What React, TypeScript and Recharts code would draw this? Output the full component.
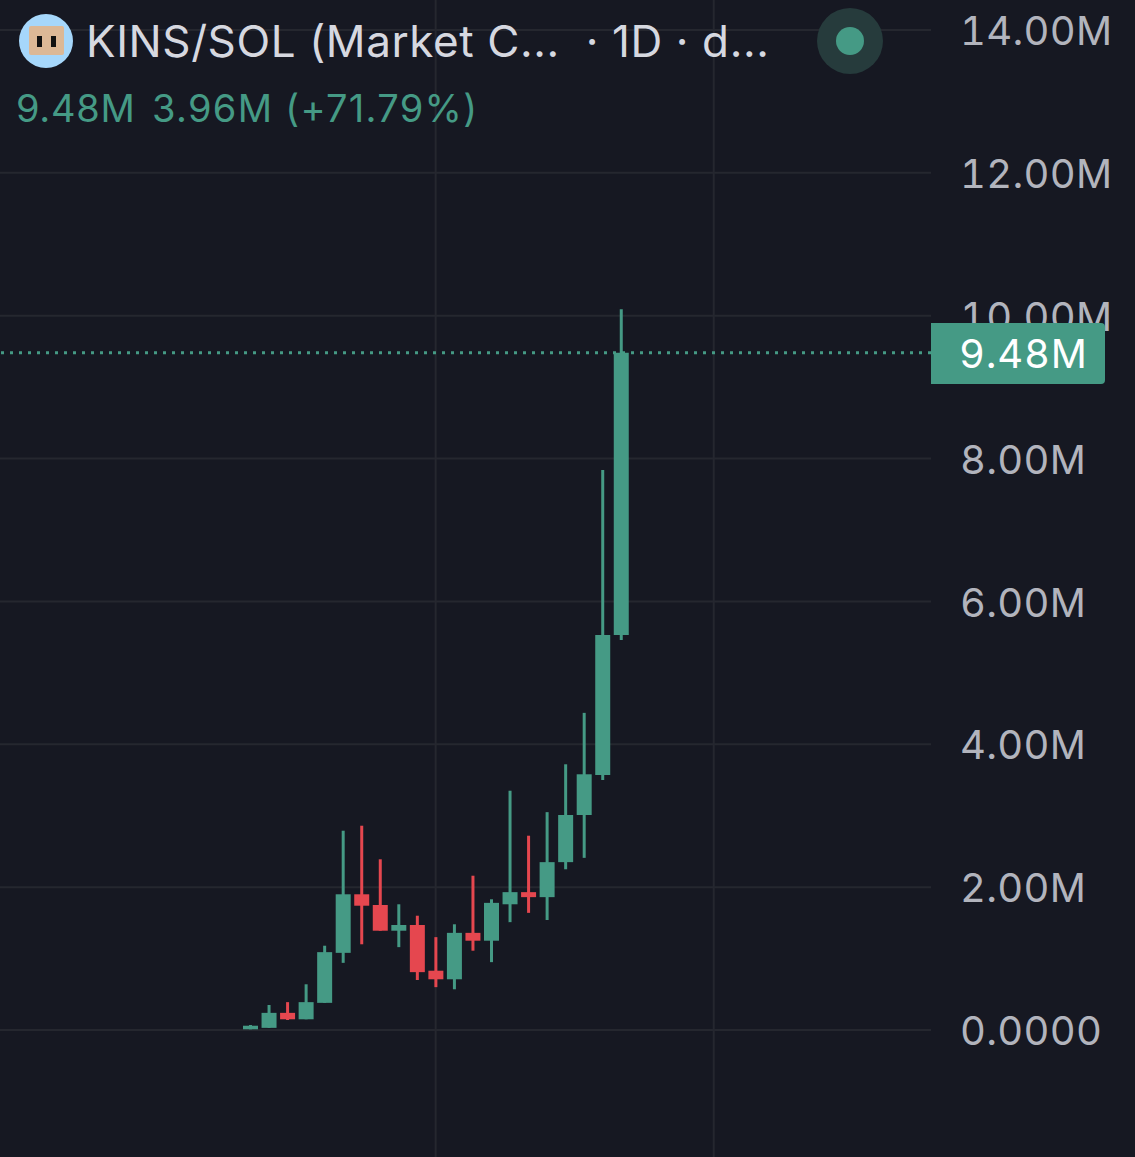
import { useEffect } from "react";
import {
  ComposedChart,
  Bar,
  Cell,
  XAxis,
  YAxis,
  CartesianGrid,
  ReferenceLine,
} from "recharts";

// daily candles in millions
const days = [0, 1, 2, 3, 4, 5, 6, 7, 8, 9, 10, 11, 12, 13, 14, 15, 16, 17, 18, 19, 20];
const opens = [0.01, 0.03, 0.24, 0.15, 0.38, 1.08, 1.9, 1.75, 1.39, 1.47, 0.83, 0.71, 1.36, 1.25, 1.76, 1.93, 1.86, 2.35, 3.01, 3.57, 5.53];
const closes = [0.06, 0.24, 0.15, 0.39, 1.09, 1.9, 1.74, 1.39, 1.47, 0.81, 0.71, 1.36, 1.25, 1.78, 1.93, 1.86, 2.35, 3.01, 3.58, 5.53, 9.48];
const highs = [0.07, 0.35, 0.39, 0.64, 1.18, 2.79, 2.86, 2.39, 1.76, 1.6, 1.3, 1.48, 2.16, 1.83, 3.35, 2.72, 3.05, 3.72, 4.44, 7.84, 10.09];
const lows = [0.01, 0.03, 0.14, 0.15, 0.38, 0.94, 1.2, 1.39, 1.16, 0.7, 0.6, 0.57, 1.11, 0.95, 1.51, 1.64, 1.54, 2.25, 2.41, 3.5, 5.46];

const yTicks = [0, 2, 4, 6, 8, 10, 12, 14];
const yLabels = ["0.0000", "2.00M", "4.00M", "6.00M", "8.00M", "10.00M", "12.00M", "14.00M"];
const dayLines = [10, 25];
const lastPrice = 9.48;

const UP = "#459a85";
const DOWN = "#e5474f";
const BG = "#161822";
const GRID = "#25272f";
const FONT = "Inter, 'Liberation Sans', sans-serif";

const candles = days.map((d, i) => ({
  day: d,
  body: [opens[i], closes[i]],
  wick: [lows[i], highs[i]],
  up: closes[i] >= opens[i],
}));

// sits above the svg so it hides the lower half of the 10.00M tick, like the original
function PriceBadge() {
  return (
    <div
      style={{
        position: "absolute",
        left: 931,
        top: 323,
        width: 174,
        height: 61,
        background: UP,
        borderRadius: "0 4px 4px 0",
        fontFamily: FONT,
        fontSize: 40,
        lineHeight: "61px",
        letterSpacing: 0.8,
        color: "#ffffff",
        paddingLeft: 28,
        boxSizing: "border-box",
        fontVariantNumeric: "tabular-nums",
      }}
    >
      {lastPrice}M
    </div>
  );
}

function Header() {
  return (
    <div style={{ position: "absolute", left: 0, top: 0, width: 931, height: 140, fontFamily: FONT }}>
      <div style={{ position: "absolute", left: 19, top: 14, width: 54, height: 54, borderRadius: 27, background: "#a6d7fb" }}>
        <div style={{ position: "absolute", left: 10, top: 12, width: 35, height: 29, background: "#dcb896", borderRadius: 2 }}>
          <div style={{ position: "absolute", left: 8, top: 10, width: 5, height: 11, background: "#111" }} />
          <div style={{ position: "absolute", left: 22, top: 10, width: 5, height: 11, background: "#111" }} />
        </div>
      </div>
      <div style={{ position: "absolute", left: 86, top: 15, fontSize: 44, letterSpacing: 0.6, lineHeight: "52px", color: "#d6d8e0", whiteSpace: "pre" }}>
        KINS/SOL (Market C...  · 1D · d...
      </div>
      <div style={{ position: "absolute", left: 16, top: 85, fontSize: 38, letterSpacing: 0.75, lineHeight: "46px", color: UP, whiteSpace: "pre" }}>
        9.48M
      </div>
      <div style={{ position: "absolute", left: 152, top: 85, fontSize: 38, letterSpacing: 1.3, lineHeight: "46px", color: UP, whiteSpace: "pre" }}>
        3.96M (+71.79%)
      </div>
      <div style={{ position: "absolute", left: 817, top: 8, width: 66, height: 66, borderRadius: 33, background: "#263b3c" }}>
        <div style={{ position: "absolute", left: 19, top: 19, width: 28, height: 28, borderRadius: 14, background: UP }} />
      </div>
    </div>
  );
}

export default function App() {
  useEffect(() => {
    document.body.style.margin = "0";
    document.body.style.background = BG;
  }, []);

  return (
    <div style={{ position: "absolute", left: 0, top: 0, width: 1135, height: 1157, background: BG, overflow: "hidden" }}>
      <ComposedChart width={1135} height={1157} data={candles} margin={{ top: 0, right: 0, bottom: 0, left: 0 }}>
        <CartesianGrid stroke={GRID} strokeWidth={2} horizontalValues={yTicks} verticalValues={dayLines} xAxisId="wick" />
        <XAxis xAxisId="wick" type="number" dataKey="day" domain={[-13.5, 36.72]} hide />
        <XAxis xAxisId="body" type="number" dataKey="day" domain={[-13.5, 36.72]} hide />
        <YAxis
          orientation="right"
          width={204}
          domain={[-1.778, 14.42]}
          ticks={yTicks}
          axisLine={false}
          tickLine={false}
          tickMargin={23}
          tick={{ fill: "#b2b4bd", fontSize: 40, fontFamily: FONT, dy: 1, style: { letterSpacing: 0.3, fontVariantNumeric: "tabular-nums" } }}
          tickFormatter={(v: number) => yLabels[yTicks.indexOf(v)]}
        />
        <Bar xAxisId="wick" dataKey="wick" barSize={3} isAnimationActive={false}>
          {candles.map((c) => (
            <Cell key={c.day} fill={c.up ? UP : DOWN} />
          ))}
        </Bar>
        <Bar xAxisId="body" dataKey="body" barSize={15} isAnimationActive={false}>
          {candles.map((c) => (
            <Cell key={c.day} fill={c.up ? UP : DOWN} />
          ))}
        </Bar>
        <ReferenceLine xAxisId="wick" y={lastPrice} stroke={UP} strokeWidth={3} strokeDasharray="3 6" />
      </ComposedChart>
      <PriceBadge />
      <Header />
    </div>
  );
}
